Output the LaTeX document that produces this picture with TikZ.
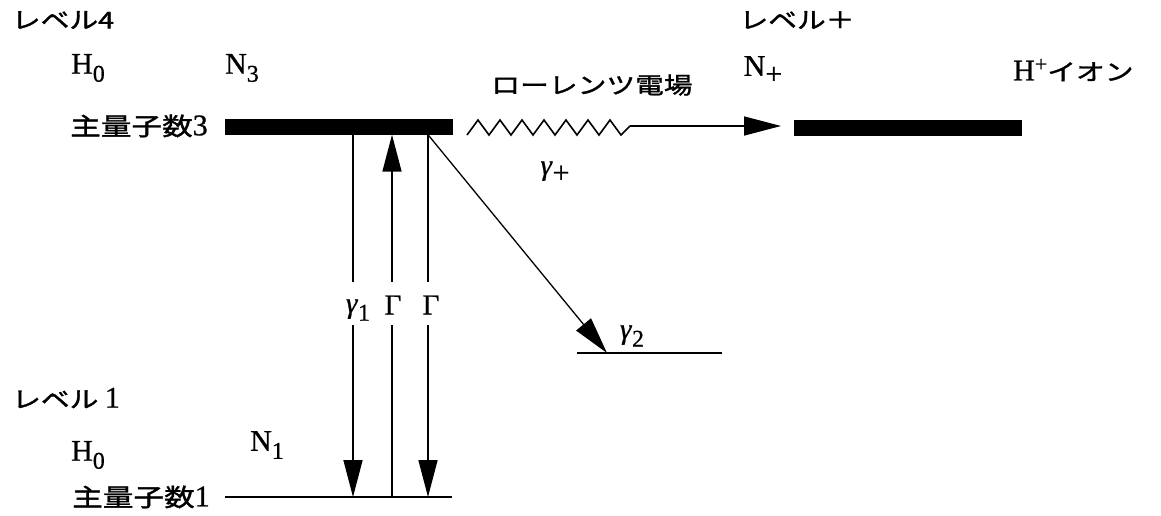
\documentclass[tikz,border=0pt]{standalone}
\usepackage{fontspec}
\setmainfont{Liberation Serif}[FakeBold=0.8]
\newfontfamily\jpfont[FakeStretch=1.25,FakeBold=1.5]{Noto Sans CJK JP}
\usetikzlibrary{arrows.meta}
\newcommand\lsub[1]{\raisebox{-8pt}{\fontsize{24}{24}\selectfont #1}}
\newcommand\lplus{\fontsize{30}{30}\selectfont +}
\newcommand\gam{\textit{γ}}
\begin{document}
\begin{tikzpicture}[x=1pt,y=-1pt,
  lat/.style={font=\fontsize{30}{30}\selectfont, inner sep=0pt},
  jpt/.style={font=\jpfont\fontsize{23}{23}\selectfont, inner sep=0pt},
  jpq/.style={font=\jpfont\fontsize{24.5}{24.5}\selectfont, inner sep=0pt},
  gk/.style={font=\fontsize{29}{29}\selectfont, inner sep=0pt},
  ln/.style={line width=1.6pt},
  arr/.style={ln, -{Triangle[length=37pt,width=19pt]}},
  levelbar/.style={fill=black, draw=none, minimum width=228pt, minimum height=16pt, inner sep=0pt}]
\useasboundingbox (0,0) rectangle (1161,515);

% upper level (level 4)
\node[jpt] (lv4) at (63,20) {レベル4};
\node[lat] (h0a) at (88,68) {H\lsub{0}};
\node[lat] (n3) at (242,68) {N\lsub{3}};
\node[jpq] (q3) at (139,126) {主量子数{\fontsize{30}{30}\rmfamily 3}};
\node[levelbar] (bar3) at (339,126.5) {};

% Lorentz field / ion level
\node[jpt] (lor) at (592,85) {ローレンツ電場};
\node[jpt] (lvp) at (797,20) {レベル＋};
\node[lat] (np) at (763,70) {N\raisebox{-8pt}{\lplus}};
\node[lat, anchor=west] (hp) at (1013,70) {H\raisebox{9pt}{\fontsize{22}{22}\selectfont +}{\jpfont\fontsize{23}{23}\selectfont イオン}};
\node[levelbar] (barp) at (908,128) {};
\node[gk] (gp) at (555,172) {\gam\raisebox{-8pt}{\lplus}};

% zigzag + arrow
\coordinate (zs) at (467,135);
\coordinate (ze) at (630,126);
\coordinate (tipp) at (781,126);
\draw[ln, line join=miter] (zs)
  -- (478,120) -- (489,135) -- (500,120) -- (511,135) -- (522,120) -- (533,135)
  -- (544,120) -- (555,135) -- (566,120) -- (577,135) -- (588,120) -- (599,135)
  -- (610,120) -- (621,135) -- (ze);
\draw[arr] (ze) -- (tipp);

% lower level (level 1)
\node[jpt] (lv1) at (66,398) {レベル {\fontsize{30}{30}\rmfamily 1}};
\node[lat] (h0b) at (88,455) {H\lsub{0}};
\node[lat] (n1) at (267,445) {N\lsub{1}};
\node[jpq] (q1) at (141,497) {主量子数{\fontsize{30}{30}\rmfamily 1}};
\coordinate (b1l) at (225,497);
\coordinate (b1r) at (452,497);
\draw[ln] (b1l) -- (b1r);

% transitions
\node[gk] (g1) at (358,310) {\gam\lsub{1}};
\node[gk] (G1) at (393,305) {Γ};
\node[gk] (G2) at (431,305) {Γ};
\coordinate (a1t) at (353,282); \coordinate (a1b) at (353,325);
\coordinate (a2t) at (392,282); \coordinate (a2b) at (392,325);
\coordinate (a3t) at (428,282); \coordinate (a3b) at (428,325);
\draw[ln] (bar3.south -| a1t) -- (a1t);
\draw[arr] (a1b) -- (b1l -| a1b);
\draw[ln] (b1l -| a2b) -- (a2b);
\draw[arr] (a2t) -- (bar3.south -| a2t);
\draw[ln] (bar3.south -| a3t) -- (a3t);
\draw[arr] (a3b) -- (b1l -| a3b);

% decay to other level
\coordinate (l2l) at (577,353);
\coordinate (l2r) at (722,353);
\draw[ln] (l2l) -- (l2r);
\coordinate (dtip) at (607,353);
\draw[arr, line width=1.3pt] (bar3.south -| a3t) -- (dtip);
\node[gk] (g2) at (632,336) {\gam\lsub{2}};
\end{tikzpicture}
\end{document}
